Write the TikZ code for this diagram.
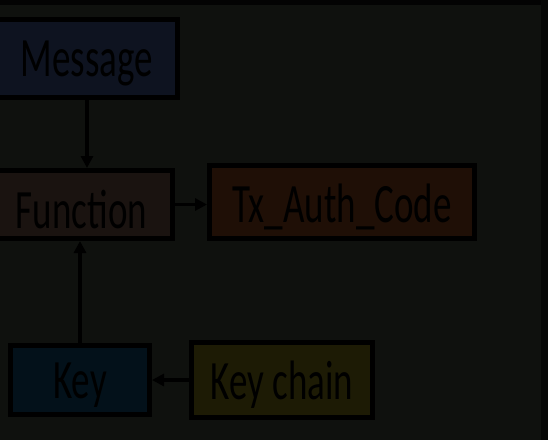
\documentclass[tikz,border=0pt]{standalone}
\usepackage{fontspec}
\setmainfont{Carlito}
\usetikzlibrary{arrows.meta}
\definecolor{bg}{HTML}{0F110E}
\definecolor{cmsg}{HTML}{0E1320}
\definecolor{cfun}{HTML}{1A1310}
\definecolor{ctx}{HTML}{1F0F06}
\definecolor{ckey}{HTML}{03111A}
\definecolor{cchain}{HTML}{1D1B05}
\tikzset{
  box/.style={draw=black, line width=5pt, inner sep=0pt, outer sep=2.5pt,
    font=\fontsize{37}{40}\selectfont, text=black},
  arr/.style={draw=black, line width=3.5pt, -{Triangle[length=12pt,width=12pt]}},
}
\newcommand{\tall}[1]{\raisebox{-5pt}[\height][\depth]{\scalebox{1}[1.5]{#1}}}
\begin{document}
\begin{tikzpicture}[x=1pt,y=-1pt]
\useasboundingbox (0,0) rectangle (548,440);
\fill[bg] (0,0) rectangle (548,440);
\fill[black!80!bg] (0,0) rectangle (548,5);
\fill[black!60!bg] (541,0) rectangle (548,440);
\node[box, fill=cmsg, minimum width=181pt, minimum height=78pt] (msg) at (87,58.5) {\tall{Message}};
\node[box, fill=cfun, minimum width=182pt, minimum height=68pt] (fun) at (81.5,204.5) {\tall{Function}};
\node[box, fill=ctx, minimum width=265pt, minimum height=73pt] (tx) at (342,202) {\tall{Tx\_Auth\_Code}};
\node[box, fill=ckey, minimum width=139pt, minimum height=69pt] (key) at (80,380) {\tall{Key}};
\node[box, fill=cchain, minimum width=181pt, minimum height=75pt] (chain) at (282,380) {\tall{Key chain}};
\draw[arr] (msg.south) -- (msg.south |- fun.north);
\draw[arr] (fun.east) -- (fun.east -| tx.west);
\draw[arr] (key.north) -- (key.north |- fun.south);
\draw[arr] (chain.west) -- (chain.west -| key.east);
\end{tikzpicture}
\end{document}
